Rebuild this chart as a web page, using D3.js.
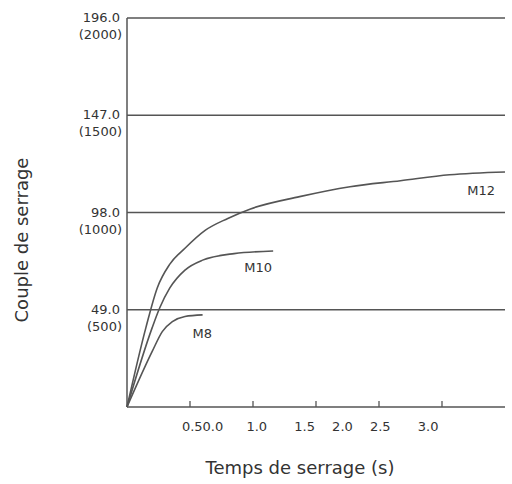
<!DOCTYPE html>
<html>
<head>
<meta charset="utf-8">
<script src="https://cdn.jsdelivr.net/npm/d3@7"></script>
<style>body{margin:0;background:#fff}</style>
</head>
<body>
<svg id="svg"></svg>
<script>
    const yTicks = [49, 98, 147, 196]
    const yTickLabels = [['49.0', '(500)'], ['98.0', '(1000)'], ['147.0', '(1500)'], ['196.0', '(2000)']]
    const xTicks = [0.5, 1.0, 1.5, 2.0, 2.5]
    const xLabels = ['0.50.0', '1.0', '1.5', '2.0', '2.5', '3.0']
    const xLabelAt = [0.6, 1.03, 1.41, 1.71, 2.01, 2.39]

    const m12 = [[0,0],[0.15,40],[0.24,60],[0.34,72],[0.46,80],[0.62,89],[0.8,95],[0.98,99.8],[1.37,106],[1.77,111],[2.17,114],[2.56,117],[3.0,118.4]]
    const m10 = [[0,0],[0.2,40],[0.26,50],[0.34,60],[0.46,69],[0.6,74],[0.85,77.3],[1.16,78.6]]
    const m8 = [[0,0],[0.2,28],[0.28,38],[0.36,43],[0.46,45.6],[0.6,46.4]]
    const series = [
        {name: 'M12', pts: m12, lx: 2.7, ly: 107},
        {name: 'M10', pts: m10, lx: 0.93, ly: 68},
        {name: 'M8', pts: m8, lx: 0.52, ly: 35}
    ]

    const WIDTH = 512, HEIGHT = 484
    const svg = d3.select('svg').attr('width', WIDTH).attr('height', HEIGHT)
    const x = d3.scaleLinear().domain([0, 3]).range([127, 505])
    const y = d3.scaleLinear().domain([0, 196]).range([407, 18])
    const stroke = '#555'

    // grid lines
    svg.append('g').selectAll('line').data(yTicks).enter().append('line')
        .attr('x1', x(0)).attr('x2', x(3))
        .attr('y1', d => y(d)).attr('y2', d => y(d))
        .attr('stroke', stroke).attr('stroke-width', 1.3)

    // axes
    svg.append('line').attr('x1', x(0)).attr('x2', x(0)).attr('y1', y(0)).attr('y2', y(196))
        .attr('stroke', stroke).attr('stroke-width', 1.5)
    svg.append('line').attr('x1', x(0)).attr('x2', x(3)).attr('y1', y(0)).attr('y2', y(0))
        .attr('stroke', stroke).attr('stroke-width', 1.5)
    svg.append('g').selectAll('line').data(xTicks).enter().append('line')
        .attr('x1', d => x(d)).attr('x2', d => x(d))
        .attr('y1', y(0)).attr('y2', y(0) - 6)
        .attr('stroke', stroke).attr('stroke-width', 1.3)

    svg.append('g').selectAll('text').data(xLabels).enter().append('text')
        .attr('x', (d, i) => x(xLabelAt[i])).attr('y', y(0) + 24)
        .attr('text-anchor', 'middle').attr('font-family', 'DejaVu Sans').attr('font-size', 13)
        .attr('fill', '#333').text(d => d)

    const yl = svg.append('g').selectAll('text').data(yTicks).enter().append('text')
        .attr('text-anchor', 'end').attr('font-family', 'DejaVu Sans').attr('font-size', 13)
        .attr('fill', '#333')
    yl.append('tspan').attr('x', 120).attr('y', d => y(d) + 4).text((d, i) => yTickLabels[i][0])
    yl.append('tspan').attr('x', 122).attr('y', d => y(d) + 21).text((d, i) => yTickLabels[i][1])

    const line = d3.line().x(d => x(d[0])).y(d => y(d[1])).curve(d3.curveMonotoneX)
    svg.append('g').selectAll('path').data(series).enter().append('path')
        .attr('d', d => line(d.pts)).attr('fill', 'none')
        .attr('stroke', stroke).attr('stroke-width', 1.6)
    svg.append('g').selectAll('text').data(series).enter().append('text')
        .attr('x', d => x(d.lx)).attr('y', d => y(d.ly))
        .attr('font-family', 'DejaVu Sans').attr('font-size', 13).attr('fill', '#333')
        .text(d => d.name)

    svg.append('text').attr('transform', 'translate(28,240) rotate(-90)')
        .attr('text-anchor', 'middle').attr('font-family', 'DejaVu Sans').attr('font-size', 18)
        .attr('fill', '#333').text('Couple de serrage')
    svg.append('text').attr('x', 300).attr('y', 474)
        .attr('text-anchor', 'middle').attr('font-family', 'DejaVu Sans').attr('font-size', 18)
        .attr('fill', '#333').text('Temps de serrage (s)')
</script>
</body>
</html>
